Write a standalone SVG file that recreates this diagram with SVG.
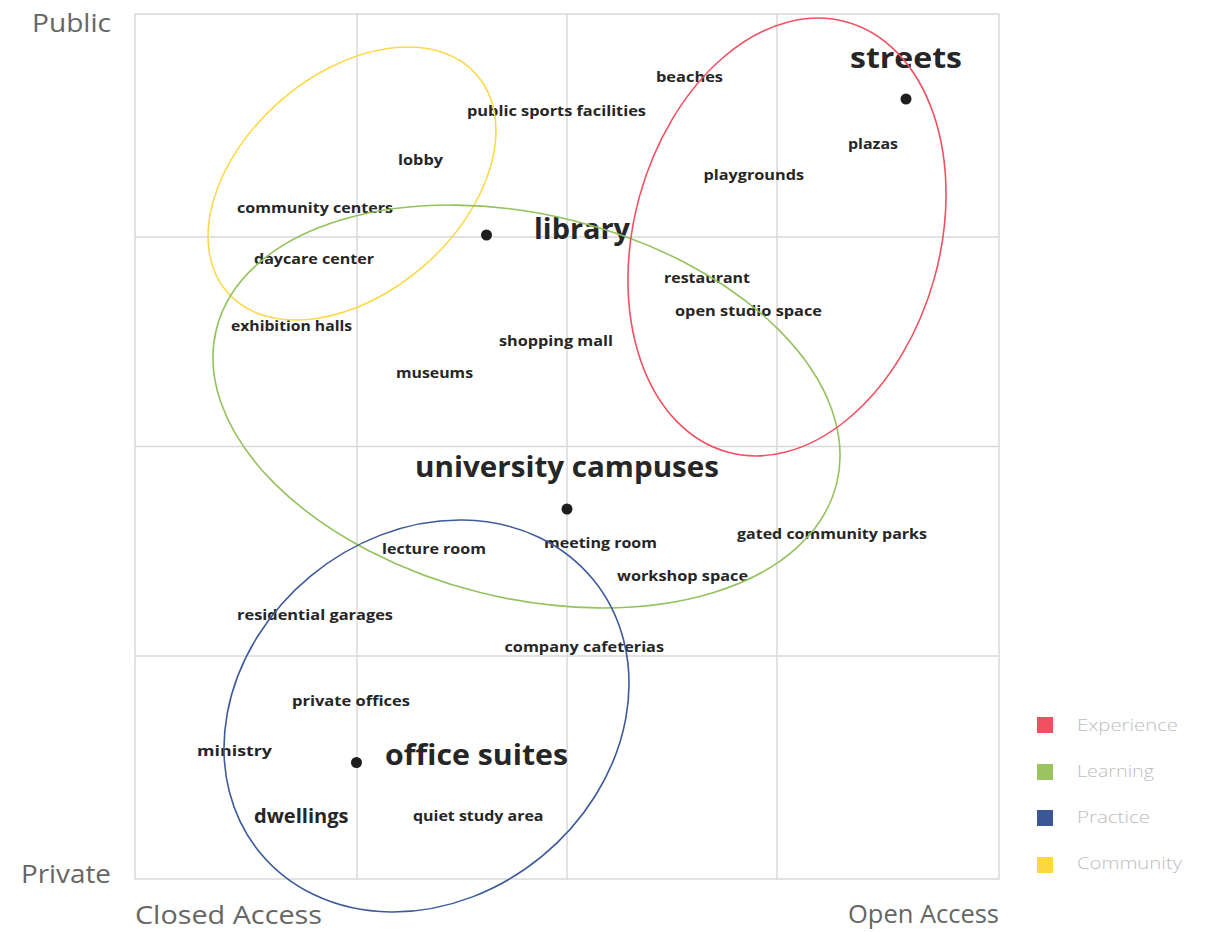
<svg xmlns="http://www.w3.org/2000/svg" width="1218" height="932" viewBox="0 0 1218 932">
<style>
.grid{fill:none;stroke:#d9d9d9;stroke-width:1.5}
.lbl{font-family:"Open Sans","Liberation Sans",sans-serif;font-weight:700;font-size:15px;fill:#262626}
.big{font-family:"Open Sans","Liberation Sans",sans-serif;font-weight:700;font-size:29px;fill:#262626}
.mid{font-family:"Open Sans","Liberation Sans",sans-serif;font-weight:700;font-size:19.5px;fill:#262626}
.axis{font-family:"Open Sans","Liberation Sans",sans-serif;font-weight:400;font-size:25px;fill:#666}
.leg{font-family:"Open Sans","Liberation Sans",sans-serif;font-weight:300;font-size:17px;fill:#bdbdbd}
.dot{fill:#1e1e1e}
.ell{fill:none;stroke-width:1.6}
</style>
<rect width="1218" height="932" fill="#fff"/>
<g id="grid">
<rect class="grid" x="135" y="14" width="864" height="865"/>
<line class="grid" x1="357" y1="14" x2="357" y2="879"/>
<line class="grid" x1="567" y1="14" x2="567" y2="879"/>
<line class="grid" x1="777" y1="14" x2="777" y2="879"/>
<line class="grid" x1="135" y1="237" x2="999" y2="237"/>
<line class="grid" x1="135" y1="446.5" x2="999" y2="446.5"/>
<line class="grid" x1="135" y1="656" x2="999" y2="656"/>
</g>
<g id="axes">
<text class="axis" x="32" y="32" textLength="79" lengthAdjust="spacingAndGlyphs">Public</text>
<text class="axis" x="21" y="883" textLength="90" lengthAdjust="spacingAndGlyphs">Private</text>
<text class="axis" x="135" y="924" textLength="187" lengthAdjust="spacingAndGlyphs">Closed Access</text>
<text class="axis" x="848" y="923" textLength="151" lengthAdjust="spacingAndGlyphs">Open Access</text>
</g>
<g id="labels">
<g id="node-streets"><text class="big" x="850" y="68" textLength="112" lengthAdjust="spacingAndGlyphs">streets</text><circle class="dot" cx="906" cy="99" r="5.5"/></g>
<g id="node-library"><text class="big" x="534" y="239" textLength="96" lengthAdjust="spacingAndGlyphs">library</text><circle class="dot" cx="486.5" cy="235" r="5.5"/></g>
<g id="node-university"><text class="big" x="415" y="477" textLength="304" lengthAdjust="spacingAndGlyphs">university campuses</text><circle class="dot" cx="567" cy="509" r="5.5"/></g>
<g id="node-office"><text class="big" x="385" y="765" textLength="183" lengthAdjust="spacingAndGlyphs">office suites</text><circle class="dot" cx="356.5" cy="762.5" r="5.5"/></g>
<g id="node-beaches"><text class="lbl" x="656" y="82" textLength="67" lengthAdjust="spacingAndGlyphs">beaches</text></g>
<g id="node-sports"><text class="lbl" x="467" y="116" textLength="179" lengthAdjust="spacingAndGlyphs">public sports facilities</text></g>
<g id="node-lobby"><text class="lbl" x="398" y="165" textLength="45" lengthAdjust="spacingAndGlyphs">lobby</text></g>
<g id="node-plazas"><text class="lbl" x="848" y="149" textLength="50" lengthAdjust="spacingAndGlyphs">plazas</text></g>
<g id="node-playgrounds"><text class="lbl" x="703.5" y="180" textLength="100.5" lengthAdjust="spacingAndGlyphs">playgrounds</text></g>
<g id="node-community"><text class="lbl" x="237" y="213" textLength="156" lengthAdjust="spacingAndGlyphs">community centers</text></g>
<g id="node-daycare"><text class="lbl" x="254" y="264" textLength="120" lengthAdjust="spacingAndGlyphs">daycare center</text></g>
<g id="node-restaurant"><text class="lbl" x="664" y="283" textLength="86" lengthAdjust="spacingAndGlyphs">restaurant</text></g>
<g id="node-studio"><text class="lbl" x="675" y="316" textLength="147" lengthAdjust="spacingAndGlyphs">open studio space</text></g>
<g id="node-exhibition"><text class="lbl" x="231" y="331" textLength="121" lengthAdjust="spacingAndGlyphs">exhibition halls</text></g>
<g id="node-mall"><text class="lbl" x="499" y="346" textLength="114" lengthAdjust="spacingAndGlyphs">shopping mall</text></g>
<g id="node-museums"><text class="lbl" x="396" y="378" textLength="77" lengthAdjust="spacingAndGlyphs">museums</text></g>
<g id="node-gated"><text class="lbl" x="737" y="539" textLength="190" lengthAdjust="spacingAndGlyphs">gated community parks</text></g>
<g id="node-meeting"><text class="lbl" x="544" y="548" textLength="113" lengthAdjust="spacingAndGlyphs">meeting room</text></g>
<g id="node-lecture"><text class="lbl" x="382" y="554" textLength="104" lengthAdjust="spacingAndGlyphs">lecture room</text></g>
<g id="node-workshop"><text class="lbl" x="617" y="581" textLength="131" lengthAdjust="spacingAndGlyphs">workshop space</text></g>
<g id="node-garages"><text class="lbl" x="237" y="620" textLength="156" lengthAdjust="spacingAndGlyphs">residential garages</text></g>
<g id="node-cafeterias"><text class="lbl" x="504.5" y="652" textLength="159.5" lengthAdjust="spacingAndGlyphs">company cafeterias</text></g>
<g id="node-private-offices"><text class="lbl" x="292" y="706" textLength="118" lengthAdjust="spacingAndGlyphs">private offices</text></g>
<g id="node-ministry"><text class="lbl" x="197" y="756" textLength="75" lengthAdjust="spacingAndGlyphs">ministry</text></g>
<g id="node-dwellings"><text class="mid" x="254" y="823" textLength="94.5" lengthAdjust="spacingAndGlyphs">dwellings</text></g>
<g id="node-quiet"><text class="lbl" x="413" y="821" textLength="130.5" lengthAdjust="spacingAndGlyphs">quiet study area</text></g>
</g>
<g id="connectors">
<ellipse id="community-ellipse" class="ell" stroke="#FCD84A" cx="352" cy="183.5" rx="165.5" ry="109.4" transform="rotate(-41.1 352 183.5)"/>
<ellipse id="learning-ellipse" class="ell" stroke="#94C25C" cx="526.5" cy="406.5" rx="319.6" ry="191.7" transform="rotate(14 526.5 406.5)"/>
<ellipse id="experience-ellipse" class="ell" stroke="#F0505F" cx="787" cy="237" rx="153" ry="223.2" transform="rotate(15.5 787 237)"/>
<ellipse id="practice-ellipse" class="ell" stroke="#3D5A9B" cx="426.5" cy="716" rx="215.4" ry="181.7" transform="rotate(-39.4 426.5 716)"/>
</g>
<g id="legend">
<rect x="1037" y="717" width="16" height="16" fill="#F0505F"/>
<text class="leg" x="1077" y="731" textLength="101" lengthAdjust="spacingAndGlyphs">Experience</text>
<rect x="1037" y="764" width="16" height="16" fill="#9AC461"/>
<text class="leg" x="1077" y="777" textLength="77" lengthAdjust="spacingAndGlyphs">Learning</text>
<rect x="1037" y="810" width="16" height="16" fill="#3A5898"/>
<text class="leg" x="1077" y="823" textLength="73" lengthAdjust="spacingAndGlyphs">Practice</text>
<rect x="1037" y="857" width="16" height="16" fill="#FDD83F"/>
<text class="leg" x="1077" y="869" textLength="105" lengthAdjust="spacingAndGlyphs">Community</text>
</g>
</svg>
